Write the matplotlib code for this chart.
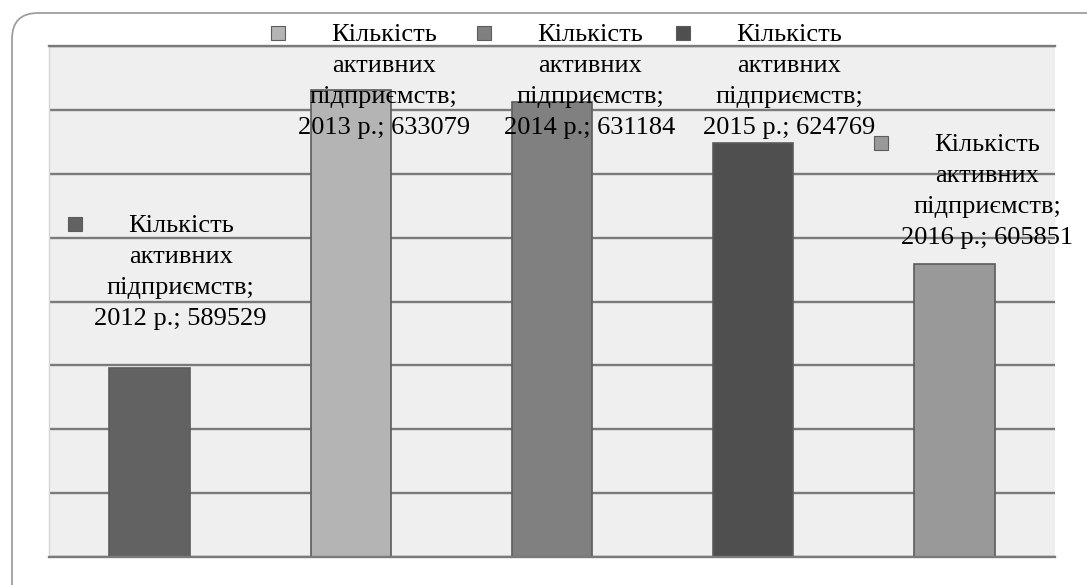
"""
plot.py — Кількість активних підприємств, 2012–2016 рр.

Стовпчикова діаграма у стилі Excel: сірі стовпці, підписи даних з ключем
легенди, округла рамка навколо діаграми.
"""

import matplotlib
matplotlib.use("Agg")
import matplotlib.pyplot as plt  # type: ignore
from matplotlib.patches import FancyBboxPatch
from matplotlib.transforms import IdentityTransform, ScaledTranslation


# ============================================================================
# DATA
# ============================================================================
SERIES_NAME = ["Кількість", "активних", "підприємств;"]
YEARS = ["2012", "2013", "2014", "2015", "2016"]
VALUES = [589529, 633079, 631184, 624769, 605851]

Y_MIN = 560000
Y_MAX = 640000
Y_STEP = 10000

# ============================================================================
# STYLE / LAYOUT
# ============================================================================
W_PX, H_PX = 1087, 585
DPI = 100

BAR_COLORS = ["#626262", "#b4b4b4", "#808080", "#4f4f4f", "#999999"]
BAR_EDGE = "#5c5c5c"
GRID_COLOR = "#7a7a7a"
PLOT_BG = "#efefef"
FRAME_COLOR = "#9e9e9e"

# label placement, pixels relative to the top of each bar
LABEL_DX = [31, 33, 38, 36, 33]          # centre of text lines
LABEL_DY = [136, 49, 61, 102, 113]       # baseline of first line
LINE_STEP = 31
KEY_DX = -106                            # key square centre from text centre
KEY_DY = 8                               # key square centre above baseline

plt.rcParams.update({
    "font.family": ["Liberation Serif", "DejaVu Serif"],
    "font.size": 19,
})


def draw_chart():
    fig = plt.figure(figsize=(W_PX / DPI, H_PX / DPI), dpi=DPI)
    fig.patch.set_facecolor("white")

    left, right, top, bottom = 49, 1055, 46, 557
    ax = fig.add_axes([
        left / W_PX, (H_PX - bottom) / H_PX,
        (right - left) / W_PX, (bottom - top) / H_PX,
    ])
    ax.set_facecolor(PLOT_BG)

    x = list(range(len(YEARS)))
    ax.bar(x, VALUES, width=0.40, color=BAR_COLORS,
           edgecolor=BAR_EDGE, linewidth=1.2, zorder=2)

    ax.set_xlim(-0.5, len(YEARS) - 0.5)
    ax.set_ylim(Y_MIN, Y_MAX)
    ax.set_yticks(range(Y_MIN, Y_MAX + 1, Y_STEP))
    ax.set_xticks([])
    ax.tick_params(axis="y", length=0, labelleft=False)
    ax.grid(axis="y", color=GRID_COLOR, linewidth=1.7)
    ax.set_axisbelow(True)

    ax.spines["right"].set_visible(False)
    ax.spines["left"].set_color("#d6d6d6")
    ax.spines["left"].set_linewidth(1.0)
    for side in ("top", "bottom"):
        ax.spines[side].set_color(GRID_COLOR)
        ax.spines[side].set_linewidth(1.7)

    # data labels with legend key
    for i, (year, val) in enumerate(zip(YEARS, VALUES)):
        lines = SERIES_NAME + [f"{year} р.; {val}"]
        for k, line in enumerate(lines):
            ax.annotate(
                line, xy=(i, val),
                xytext=(LABEL_DX[i], LABEL_DY[i] - k * LINE_STEP),
                textcoords="offset pixels",
                ha="center", va="baseline", color="black",
                annotation_clip=False, zorder=5,
            )
        key_shift = ScaledTranslation(
            (LABEL_DX[i] + KEY_DX) / DPI, (LABEL_DY[i] + KEY_DY) / DPI,
            fig.dpi_scale_trans,
        )
        ax.plot(
            [i], [val], linestyle="none", marker="s", markersize=10,
            markerfacecolor=BAR_COLORS[i], markeredgecolor=BAR_EDGE,
            markeredgewidth=0.8, clip_on=False, zorder=6,
            transform=ax.transData + key_shift,
        )

    # rounded frame (runs off the right and bottom edges)
    frame = FancyBboxPatch(
        (12, -40), 1110, 612,
        boxstyle="round,pad=0,rounding_size=26",
        transform=IdentityTransform(), fill=False,
        edgecolor=FRAME_COLOR, linewidth=1.3,
    )
    fig.add_artist(frame)

    fig.savefig("out.png", dpi=DPI)
    print("Grafico salvo em: out.png")


def main():
    draw_chart()


if __name__ == "__main__":
    main()
